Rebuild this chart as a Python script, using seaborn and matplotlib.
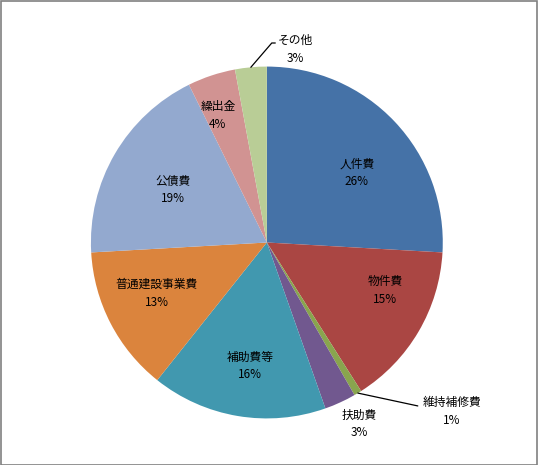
import numpy as np
import seaborn as sns
import matplotlib
matplotlib.use("Agg")
import matplotlib.pyplot as plt
import matplotlib.patches as patches

# --- データ（構成比 %） ---
categories = ["人件費", "物件費", "維持補修費", "扶助費", "補助費等",
              "普通建設事業費", "公債費", "繰出金", "その他"]
shares = [25.9, 15.1, 0.7, 2.9, 16.1, 13.4, 18.6, 4.4, 2.9]
colors = ["#4572A7", "#AA4643", "#89A54E", "#71588F", "#4198AF",
          "#DB843D", "#93A9CF", "#D19392", "#B9CD96"]

# ラベル位置 (半径, 角度[度]) ― Excel の自動配置に合わせる
label_pos = {"人件費": (0.646, 37.7), "物件費": (0.725, -22.3), "補助費等": (0.708, -97.8),
             "普通建設事業費": (0.688, 204.7), "公債費": (0.612, 150.8), "繰出金": (0.776, 111.0),
             "扶助費": (1.156, -63.1), "維持補修費": (1.424, -42.3), "その他": (1.11, 81.6)}
# 引き出し線の終点 (x, y)
leader_end = {"維持補修費": [(0.858, -0.929)], "その他": [(0.028, 1.134), (0.048, 1.134)]}

sns.set_theme(style="white")
plt.rcParams["font.family"] = ["Noto Sans CJK JP", "DejaVu Sans"]

fig = plt.figure(figsize=(5.38, 4.65), dpi=100)
fig.patches.append(patches.Rectangle((0.001, 0.001), 0.997, 0.997, transform=fig.transFigure,
                                     fill=False, edgecolor="#808080", linewidth=1.2))
ax = fig.add_axes([0.169, 0.100, 0.654, 0.757])

wedges, _ = ax.pie(shares, colors=sns.color_palette(colors), startangle=90,
                   counterclock=False, radius=1.0,
                   wedgeprops=dict(linewidth=0))

total = sum(shares)
cum = 0
for name, val in zip(categories, shares):
    mid = np.deg2rad(90 - (cum + val / 2) / total * 360)
    cum += val
    r, ang = label_pos[name]
    a = np.deg2rad(ang)
    ax.text(r * np.cos(a), r * np.sin(a), f"{name}\n{round(val / total * 100)}%",
            ha="center", va="center", fontsize=8.5, linespacing=1.5, color="black")
    if name in leader_end:
        pts = [(np.cos(mid), np.sin(mid))] + leader_end[name]
        xs, ys = zip(*pts)
        ax.plot(xs, ys, color="black", lw=0.9, clip_on=False)

ax.set_xlim(-1, 1)
ax.set_ylim(-1, 1)
ax.set_aspect("equal")
ax.axis("off")

fig.savefig("out.png", dpi=100)
